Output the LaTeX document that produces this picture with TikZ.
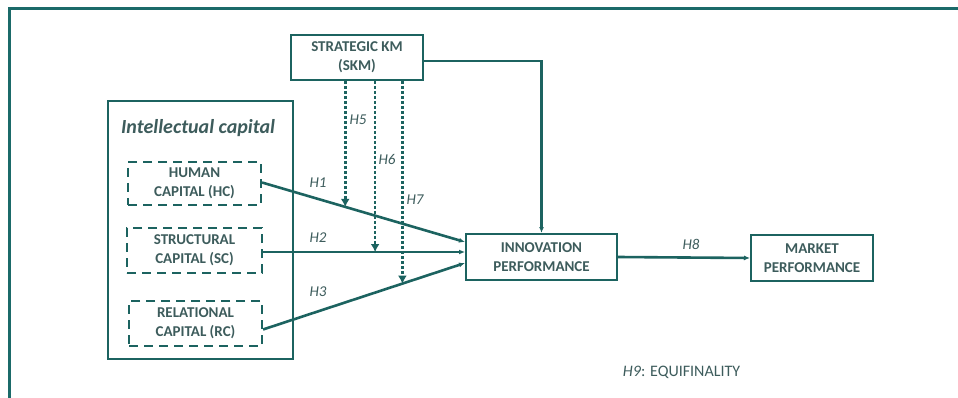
\documentclass[tikz,border=0pt]{standalone}
\usepackage{fontspec}
\setmainfont{Carlito}
\usetikzlibrary{arrows.meta,calc}
\definecolor{frameteal}{HTML}{1B6A69}
\definecolor{lineteal}{HTML}{1C6360}
\definecolor{labelgrey}{HTML}{3D5C5C}
\begin{document}
\begin{tikzpicture}[x=1pt,y=-1pt,
  every node/.style={text=labelgrey},
  stdbox/.style={draw=lineteal,line width=2pt,fill=white,align=center,
    font=\fontsize{15}{19}\selectfont\bfseries,inner sep=0pt},
  dimbox/.style={stdbox,dash pattern=on 9pt off 6pt},
  flow/.style={draw=lineteal,line width=2.6pt,-{Latex[length=6pt,width=5pt]}},
  thinflow/.style={draw=lineteal,line width=2.2pt,-{Latex[length=6pt,width=5pt]}},
  moder/.style={draw=lineteal,line width=2.7pt,dash pattern=on 2.7pt off 2.3pt,
    -{Latex[length=8pt,width=9pt]}},
  hyp/.style={font=\fontsize{15}{18}\selectfont\itshape,inner sep=0pt}]
\useasboundingbox (0,0) rectangle (958,398);
\fill[white] (0,0) rectangle (958,398);
% outer frame (top and left edges)
\draw[frameteal,line width=3pt] (958,9) -- (9,9) -- (9,398);

% intellectual capital group
\node[stdbox,minimum width=185pt,minimum height=258pt] (ic) at (200.5,230) {};
\node[font=\fontsize{20}{24}\selectfont\bfseries\itshape,inner sep=0pt] (ictitle) at (198,128) {Intellectual capital};
\node[dimbox,minimum width=133pt,minimum height=43pt] (hc) at (194.5,183.5) {HUMAN\\CAPITAL (HC)};
\node[dimbox,minimum width=135pt,minimum height=45pt] (sc) at (194.5,250.5) {STRUCTURAL\\CAPITAL (SC)};
\node[dimbox,minimum width=133pt,minimum height=45pt] (rc) at (195.5,323.5) {RELATIONAL\\CAPITAL (RC)};

% constructs
\node[stdbox,minimum width=132pt,minimum height=45pt] (skm) at (357,57.5) {STRATEGIC KM\\(SKM)};
\node[stdbox,minimum width=151pt,minimum height=46pt] (inn) at (541.5,257) {INNOVATION\\PERFORMANCE};
\node[stdbox,minimum width=122pt,minimum height=46pt] (mkt) at (812,258) {MARKET\\PERFORMANCE};

% end points of the direct effects
\coordinate (h1s) at ($(hc.east)+(0,-1)$);
\coordinate (h1e) at ($(inn.west)+(0,-15)$);
\coordinate (h2s) at ($(sc.east)+(0,1.5)$);
\coordinate (h2e) at ($(inn.west)+(0,-5)$);
\coordinate (h3s) at ($(rc.east)+(0,6)$);
\coordinate (h3e) at ($(inn.west)+(0,6)$);

% direct effects H1-H3
\draw[flow] (h1s) -- (h1e);
\draw[flow] (h2s) -- (h2e);
\draw[flow] (h3s) -- (h3e);

% moderation points on the direct paths
\coordinate (m5) at ($(h1s)!0.41!(h1e)$);
\coordinate (m6) at ($(h2s)!0.555!(h2e)$);
\coordinate (m7) at ($(h3s)!0.69!(h3e)$);
\draw[moder] (m5 |- skm.south) -- (m5);
\draw[moder] (m6 |- skm.south) -- (m6);
\draw[moder] (m7 |- skm.south) -- (m7);

% SKM direct effect on innovation
\draw[thinflow] ($(skm.east)+(0,3.5)$) -| (inn.north);

% H8
\draw[flow] (inn.east) -- (mkt.west);

% hypothesis labels
\node[hyp] (l1) at (318,183) {H1};
\node[hyp] (l2) at (318,238) {H2};
\node[hyp] (l3) at (318,292) {H3};
\node[hyp] (l5) at (358,120) {H5};
\node[hyp] (l6) at (387,159) {H6};
\node[hyp] (l7) at (415,200) {H7};
\node[hyp] (l8) at (691,244) {H8};
\node[font=\fontsize{16}{19}\selectfont,inner sep=0pt] (l9) at (681.5,372) {\textit{H9}: EQUIFINALITY};
\end{tikzpicture}
\end{document}
